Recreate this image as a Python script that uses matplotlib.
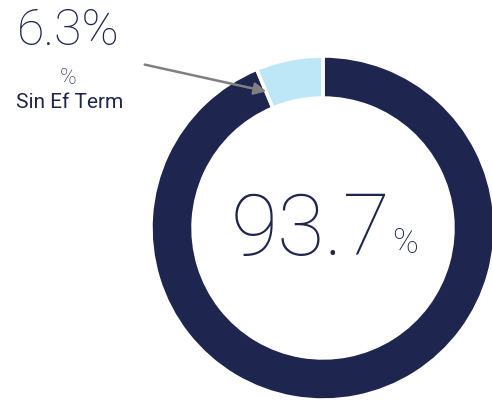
import matplotlib
matplotlib.use("Agg")
import matplotlib.pyplot as plt

# data
labels = ["Con Ef Term", "Sin Ef Term"]
values = [93.7, 6.3]
colors = ["#1E2650", "#BDE6F6"]

NAVY = "#1E2650"
plt.rcParams["font.family"] = ["Roboto", "DejaVu Sans"]

fig = plt.figure(figsize=(4.92, 4.02), dpi=100)
ax = fig.add_axes([0, 0, 1, 1])

cx, cy, r = 323, 173, 172
ax.pie(
    values,
    colors=colors,
    startangle=90,
    counterclock=False,
    center=(cx, cy),
    radius=r,
    frame=True,
    wedgeprops=dict(width=42, edgecolor="white", linewidth=2.5),
)
ax.set_xlim(0, 492)
ax.set_ylim(0, 402)
ax.set_aspect("equal")
ax.axis("off")

# centre value
ax.text(311, 170, f"{values[0]:.1f}", ha="center", va="center",
        fontsize=62, color=NAVY, fontweight="light")
ax.text(392, 159, "%", ha="left", va="center", fontsize=25, color=NAVY,
        fontweight="light")

# small segment annotation
ax.text(68, 371, f"{values[1]:.1f}%", ha="center", va="center",
        fontsize=36, color=NAVY, fontweight="light")
ax.text(68, 324, "%", ha="center", va="center", fontsize=16, color=NAVY,
        fontweight="light")
ax.text(70, 299, labels[1], ha="center", va="center", fontsize=15, color=NAVY)
ax.annotate("", xy=(269, 309), xytext=(142, 337),
            arrowprops=dict(arrowstyle="-|>", color="#808080", lw=1.8,
                            mutation_scale=18))

fig.savefig("out.png", dpi=100)
